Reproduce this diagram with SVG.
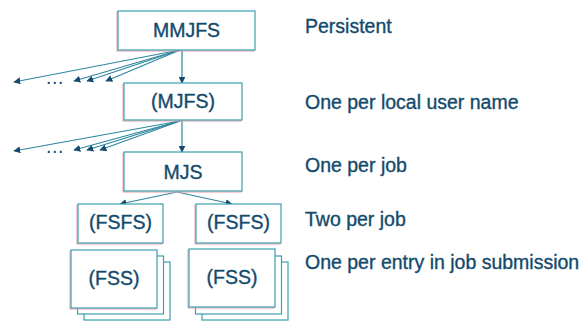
<svg xmlns="http://www.w3.org/2000/svg" width="582" height="322" viewBox="0 0 582 322">
  <defs>
    <marker id="head" viewBox="0 0 10 10" refX="9" refY="5" markerWidth="7" markerHeight="7" markerUnits="userSpaceOnUse" orient="auto">
      <path d="M0,0 L10,5 L0,10 z" fill="#174a6e"/>
    </marker>
    <style>
      .box { fill: #ffffff; stroke: #3c9fb0; stroke-width: 1.2; }
      .shadow { fill: none; stroke: #e79aa6; stroke-width: 1; }
      .lbl { font-family: "Liberation Sans", Arial, sans-serif; font-size: 19.5px; fill: #134a6c; stroke: #134a6c; stroke-width: 0.35; }
      .mid { text-anchor: middle; }
      .link { stroke: #2f86a0; stroke-width: 1.2; fill: none; marker-end: url(#head); }
      .dots { font-family: "Liberation Sans", Arial, sans-serif; font-size: 19.5px; fill: #174a6e; letter-spacing: 0.6px; }
    </style>
  </defs>
  <rect width="582" height="322" fill="#ffffff"/>

  <!-- connectors -->
  <g id="connectors">
    <!-- MMJFS fan-out -->
    <line class="link" x1="182" y1="50" x2="182" y2="83"/>
    <line class="link" x1="180" y1="50" x2="14" y2="82"/>
    <line class="link" x1="180" y1="50" x2="74" y2="81"/>
    <line class="link" x1="180" y1="50" x2="87" y2="81"/>
    <line class="link" x1="180" y1="50" x2="106" y2="81"/>
    <!-- MJFS fan-out -->
    <line class="link" x1="182" y1="120" x2="182" y2="152"/>
    <line class="link" x1="180" y1="121" x2="14" y2="151"/>
    <line class="link" x1="180" y1="121" x2="74" y2="150"/>
    <line class="link" x1="180" y1="121" x2="87" y2="150"/>
    <line class="link" x1="180" y1="121" x2="100" y2="150"/>
    <!-- MJS to FSFS -->
    <line class="link" x1="177" y1="192" x2="120" y2="204"/>
    <line class="link" x1="177" y1="192" x2="232" y2="204"/>
  </g>
  <text class="dots" x="46" y="84">...</text>
  <text class="dots" x="46" y="153">...</text>

  <g id="mmjfs">
    <rect class="shadow" x="117" y="12" width="137" height="39"/>
    <rect class="box" x="118" y="11" width="137" height="39"/>
    <text class="lbl mid" x="186.5" y="37">MMJFS</text>
  </g>
  <g id="mjfs">
    <rect class="shadow" x="123" y="84" width="118" height="37"/>
    <rect class="box" x="124" y="83" width="118" height="37"/>
    <text class="lbl mid" x="183" y="108">(MJFS)</text>
  </g>
  <g id="mjs">
    <rect class="shadow" x="123" y="153" width="118" height="39"/>
    <rect class="box" x="124" y="152" width="118" height="39"/>
    <text class="lbl mid" x="183" y="179">MJS</text>
  </g>
  <g id="fsfs-left">
    <rect class="shadow" x="77" y="205" width="85" height="39"/>
    <rect class="box" x="78" y="204" width="85" height="39"/>
    <text class="lbl mid" x="120.5" y="229">(FSFS)</text>
  </g>
  <g id="fsfs-right">
    <rect class="shadow" x="195" y="205" width="85" height="39"/>
    <rect class="box" x="196" y="204" width="85" height="39"/>
    <text class="lbl mid" x="238.5" y="229">(FSFS)</text>
  </g>
  <g id="fss-left">
    <rect class="box" x="84" y="262" width="86" height="58"/>
    <rect class="box" x="77.5" y="256" width="86" height="58"/>
    <rect class="shadow" x="70" y="251" width="86" height="58"/>
    <rect class="box" x="71" y="250" width="86" height="58"/>
    <text class="lbl mid" x="114" y="285">(FSS)</text>
  </g>
  <g id="fss-right">
    <rect class="box" x="202" y="262" width="86" height="58"/>
    <rect class="box" x="195.5" y="256" width="86" height="58"/>
    <rect class="shadow" x="188" y="250" width="86" height="58"/>
    <rect class="box" x="189" y="249" width="86" height="58"/>
    <text class="lbl mid" x="232" y="284">(FSS)</text>
  </g>

  <g id="notes">
    <text class="lbl" x="305" y="33">Persistent</text>
    <text class="lbl" x="305" y="109">One per local user name</text>
    <text class="lbl" x="305" y="172">One per job</text>
    <text class="lbl" x="305" y="226">Two per job</text>
    <text class="lbl" x="305" y="269">One per entry in job submission</text>
  </g>
</svg>
